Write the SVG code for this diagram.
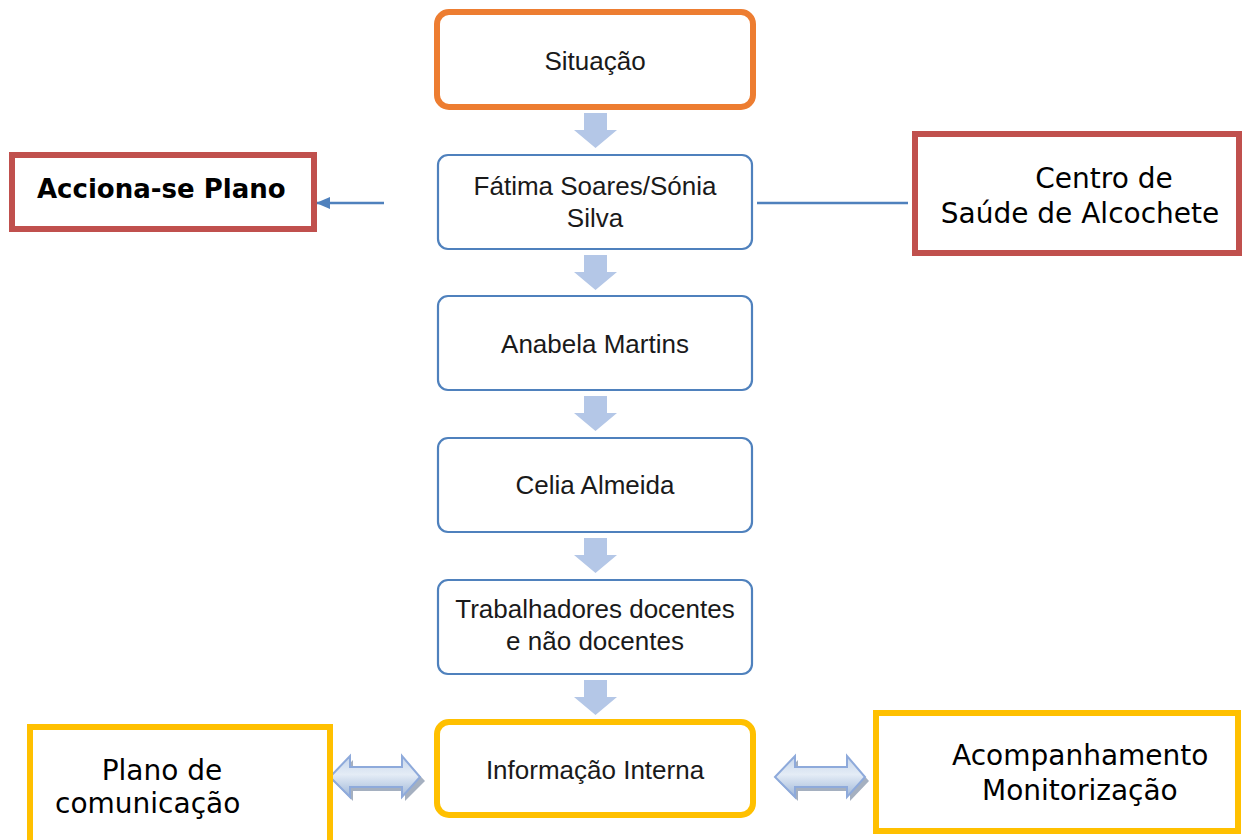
<svg xmlns="http://www.w3.org/2000/svg" width="1242" height="840" viewBox="0 0 1242 840">
<style>
.main{font-family:"Liberation Sans",Arial,sans-serif;font-size:26px;fill:#1a1a1a;text-anchor:middle}
.side{font-family:"DejaVu Sans",Verdana,sans-serif;font-size:28px;fill:#000}
.blue{fill:#fff;stroke:#4F81BD;stroke-width:2.2}
.orange{fill:#fff;stroke:#ED7D31;stroke-width:6}
.yellow{fill:#fff;stroke:#FFC000;stroke-width:6}
.red{fill:#fff;stroke:#C0504D;stroke-width:6}
.down{fill:#B4C7E7}
.dbl{fill:url(#g);stroke:#8EAADB;stroke-width:2}
.shadow{fill:#8f9cb0;opacity:0.8}
</style>
<defs>
<linearGradient id="g" x1="0" y1="0" x2="0" y2="1">
<stop offset="0" stop-color="#c5d5ea"/>
<stop offset="0.45" stop-color="#e4ecf6"/>
<stop offset="1" stop-color="#9fb7d8"/>
</linearGradient>
<marker id="ah" markerWidth="14" markerHeight="12" refX="13" refY="6" orient="auto" markerUnits="userSpaceOnUse">
<path d="M0,0 L14,6 L0,12 Z" fill="#4F81BD"/>
</marker>
</defs>

<g id="connectors">
<path class="down" d="M584,113 H607 V130 H617 L595.5,148 L574,130 H584 Z"/>
<path class="down" d="M584,255 H607 V272 H617 L595.5,290 L574,272 H584 Z"/>
<path class="down" d="M584,396 H607 V413 H617 L595.5,431 L574,413 H584 Z"/>
<path class="down" d="M584,538 H607 V555 H617 L595.5,573 L574,555 H584 Z"/>
<path class="down" d="M584,680 H607 V697 H617 L595.5,715 L574,697 H584 Z"/>
<line x1="384" y1="203" x2="317" y2="203" stroke="#4F81BD" stroke-width="2.5" marker-end="url(#ah)"/>
<line x1="757" y1="203" x2="908" y2="203" stroke="#4F81BD" stroke-width="2.5"/>
<path class="shadow" d="M333,781 L353,760 V771 H405 V760 L425,781 L405,801 V791 H353 V801 Z"/>
<path class="dbl" d="M330,777 L350,756 V767 H402 V756 L420,777 L402,797 V787 H350 V797 Z"/>
<path class="shadow" d="M778,781 L798,760 V771 H850 V760 L869,781 L850,801 V791 H798 V801 Z"/>
<path class="dbl" d="M775,777 L795,756 V767 H847 V756 L865,777 L847,797 V787 H795 V797 Z"/>
</g>

<g id="situacao">
<rect class="orange" x="437" y="12" width="316" height="95" rx="12"/>
<text class="main" x="595" y="70">Situação</text>
</g>
<g id="fatima">
<rect class="blue" x="438" y="155" width="314" height="94" rx="10"/>
<text class="main" x="595" y="195">Fátima Soares/Sónia</text>
<text class="main" x="595" y="227">Silva</text>
</g>
<g id="anabela">
<rect class="blue" x="438" y="296" width="314" height="94" rx="10"/>
<text class="main" x="595" y="353">Anabela Martins</text>
</g>
<g id="celia">
<rect class="blue" x="438" y="438" width="314" height="94" rx="10"/>
<text class="main" x="595" y="494">Celia Almeida</text>
</g>
<g id="trabalhadores">
<rect class="blue" x="438" y="580" width="314" height="94" rx="10"/>
<text class="main" x="595" y="618">Trabalhadores docentes</text>
<text class="main" x="595" y="650">e não docentes</text>
</g>
<g id="informacao">
<rect class="yellow" x="437" y="722" width="316" height="93" rx="12"/>
<text class="main" x="595" y="779">Informação Interna</text>
</g>
<g id="acciona">
<rect class="red" x="12" y="155" width="302" height="74"/>
<text class="side" x="37" y="198" style="font-weight:bold;font-size:26px">Acciona-se Plano</text>
</g>
<g id="centro">
<rect class="red" x="915" y="134" width="324" height="119"/>
<text class="side" x="1104" y="188" text-anchor="middle">Centro de</text>
<text class="side" x="1080" y="223" text-anchor="middle">Saúde de Alcochete</text>
</g>
<g id="plano">
<rect class="yellow" x="30" y="727" width="300" height="120"/>
<text class="side" x="162" y="780" text-anchor="middle">Plano de</text>
<text class="side" x="55" y="813">comunicação</text>
</g>
<g id="acompanhamento">
<rect class="yellow" x="876" y="713" width="362" height="118"/>
<text class="side" x="952" y="765">Acompanhamento</text>
<text class="side" x="982" y="800">Monitorização</text>
</g>
</svg>
